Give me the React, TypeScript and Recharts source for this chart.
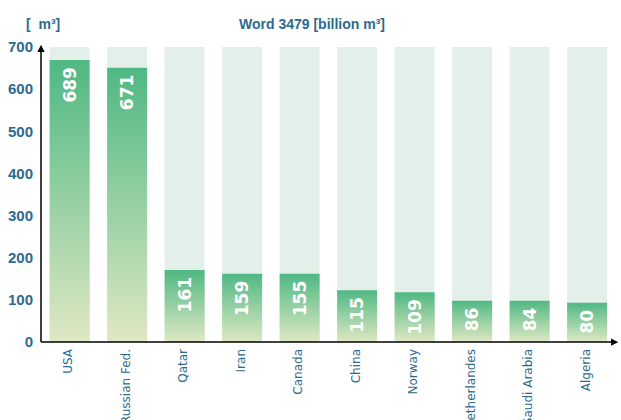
import { BarChart, Bar, XAxis, YAxis, LabelList } from "recharts";

const countries = ["USA", "Russian Fed.", "Qatar", "Iran", "Canada", "China", "Norway", "Netherlandes", "Saudi Arabia", "Algeria"];
// bar heights as drawn in the picture
const heights = [669, 651, 171, 162, 162, 123, 118, 98, 98, 93];
// values printed inside the bars
const volumes = [689, 671, 161, 159, 155, 115, 109, 86, 84, 80];
const yTicks = [0, 100, 200, 300, 400, 500, 600, 700];

const data = countries.map((name, i) => ({ name, height: heights[i], volume: volumes[i] }));

const BLUE = "#2d6a8d";
const NARROW = "'Liberation Sans Narrow', 'Liberation Sans', sans-serif";

function BarValue(props: any) {
  const { x, y, width, index } = props;
  const cx = x + width / 2;
  const cy = y + 7;
  return (
    <text
      x={cx}
      y={cy}
      transform={`rotate(-90, ${cx}, ${cy})`}
      textAnchor="end"
      dominantBaseline="central"
      fill="#ffffff"
      fontFamily="'DejaVu Sans', sans-serif"
      fontWeight="bold"
      fontSize={17}
    >
      {volumes[index]}
    </text>
  );
}

function CountryTick(props: any) {
  const { x, y, payload } = props;
  const bx = x + 2.5;
  const by = y + 5;
  return (
    <text
      x={bx}
      y={by}
      transform={`rotate(-90, ${bx}, ${by})`}
      textAnchor="end"
      fill={BLUE}
      fontFamily="'DejaVu Sans', sans-serif"
      fontSize={12}
    >
      {payload.value}
    </text>
  );
}

export default function App() {
  return (
    <div style={{ position: "fixed", left: 0, top: 0, width: 621, height: 420, background: "#fff" }}>
      <div
        style={{
          position: "absolute",
          left: 26,
          top: 16,
          fontFamily: NARROW,
          fontWeight: 700,
          fontSize: 14,
          color: BLUE,
          whiteSpace: "pre",
        }}
      >
        {"[  m³]"}
      </div>
      <div
        style={{
          position: "absolute",
          left: 212,
          top: 16,
          width: 200,
          textAlign: "center",
          fontFamily: NARROW,
          fontWeight: 700,
          fontSize: 14,
          color: BLUE,
          whiteSpace: "nowrap",
        }}
      >
        Word 3479 [billion m³]
      </div>
      <BarChart
        width={621}
        height={420}
        data={data}
        margin={{ top: 47, right: 5, bottom: 0, left: 0 }}
        barCategoryGap="15%"
      >
        <defs>
          <linearGradient id="barGrad" x1="0" y1="0" x2="0" y2="1">
            <stop offset="0%" stopColor="#4fb883" />
            <stop offset="100%" stopColor="#dfe8c4" />
          </linearGradient>
          <marker id="arrow" viewBox="0 0 10 10" refX="7" refY="5" markerWidth="5" markerHeight="5" orient="auto-start-reverse">
            <path d="M0,0 L10,5 L0,10 z" fill="#000" />
          </marker>
        </defs>
        <XAxis
          dataKey="name"
          interval={0}
          height={78}
          tickLine={false}
          tickSize={0}
          axisLine={{ stroke: "#000", strokeWidth: 1.5, markerEnd: "url(#arrow)" } as any}
          tick={<CountryTick />}
        />
        <YAxis
          domain={[0, 700]}
          ticks={yTicks}
          width={41}
          tickLine={false}
          tickSize={0}
          tickMargin={8}
          axisLine={{ stroke: "#000", strokeWidth: 1.5, markerStart: "url(#arrow)" } as any}
          tick={{ fill: BLUE, fontSize: 15, fontWeight: 700, fontFamily: "'Liberation Sans', Roboto, sans-serif" }}
        />
        <Bar dataKey="height" fill="url(#barGrad)" background={{ fill: "#e3f0ea" }} isAnimationActive={false}>
          <LabelList dataKey="volume" content={<BarValue />} />
        </Bar>
      </BarChart>
    </div>
  );
}
